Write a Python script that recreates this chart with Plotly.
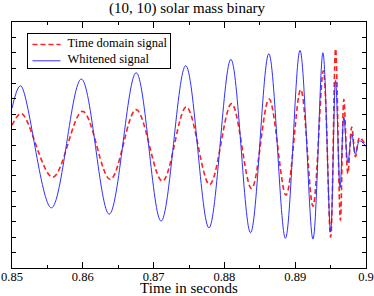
import plotly.graph_objects as go

# Whitened signal extrema (time in s, amplitude in arbitrary units)
whitened_t = [0.85, 0.851197, 0.855563, 0.859789, 0.863732, 0.867535, 0.871056, 0.874535,
              0.877817, 0.880915, 0.883690, 0.886268, 0.888620, 0.890676, 0.892507,
              0.893915, 0.895000, 0.895704, 0.896338, 0.896873, 0.897437, 0.898000,
              0.898493, 0.899085, 0.9]
whitened_h = [2.39, 3.86, -4.09, 4.29, -4.50, 4.70, -4.95, 5.16,
              -5.39, 5.57, -5.71, 5.94, -6.07, 6.15, -6.12,
              6.00, -5.65, 4.20, -2.78, 1.82, -1.13, 0.72,
              -0.60, 0.26, -0.08]

# Time domain signal extrema
timedomain_t = [0.85, 0.851338, 0.855746, 0.859972, 0.863873, 0.867535, 0.871239, 0.874620,
                0.877915, 0.881014, 0.883831, 0.886310, 0.888704, 0.890775, 0.892507,
                0.893972, 0.895000, 0.895704, 0.896380, 0.896873, 0.897437, 0.897986,
                0.898521, 0.899085, 0.9]
timedomain_h = [1.28, 2.04, -2.09, 2.19, -2.24, 2.30, -2.35, 2.47,
                -2.57, 2.69, -2.83, 2.99, -3.26, 3.60, -3.98,
                4.82, -5.99, 6.26, -4.89, 2.97, -1.85, 1.17,
                -0.76, 0.48, -0.08]

series_names = ["Time domain signal", "Whitened signal"]
series_colors = ["#ff2020", "#3030ff"]

x_ticks = [0.85, 0.86, 0.87, 0.88, 0.89, 0.9]
x_tick_labels = ["0.85", "0.86", "0.87", "0.88", "0.89", "0.9"]

serif = "Liberation Serif, Times New Roman, serif"
red_dash = "5px,3px"

fig = go.Figure()
fig.add_trace(go.Scatter(
    x=timedomain_t, y=timedomain_h, mode="lines", name=series_names[0],
    line=dict(color=series_colors[0], width=1.6, dash=red_dash, shape="spline", smoothing=1.0),
))
fig.add_trace(go.Scatter(
    x=whitened_t, y=whitened_h, mode="lines", name=series_names[1],
    line=dict(color=series_colors[1], width=1, shape="spline", smoothing=1.0),
))

# Compact xmgrace-style legend: bordered annotation plus line samples
pad = "\u00a0" * 12
legend_text = "<br>".join(pad + n for n in series_names)
fig.add_annotation(xref="paper", yref="paper", x=0.0429, y=0.9533,
                   xanchor="left", yanchor="top", align="left", showarrow=False,
                   text=legend_text, bordercolor="black", borderwidth=1, borderpad=2,
                   bgcolor="rgba(0,0,0,0)", font=dict(family=serif, size=12.5, color="black"))

row_y = [0.9083, 0.8422]
sample_x = [0.0578, 0.1368]
fig.add_shape(type="line", xref="paper", yref="paper", layer="above",
              x0=sample_x[0], x1=sample_x[1], y0=row_y[0], y1=row_y[0],
              line=dict(color=series_colors[0], width=1.6, dash=red_dash))
fig.add_shape(type="line", xref="paper", yref="paper", layer="above",
              x0=sample_x[0], x1=sample_x[1], y0=row_y[1], y1=row_y[1],
              line=dict(color=series_colors[1], width=1))

fig.update_layout(
    width=374, height=296,
    margin=dict(l=11.5, r=8, t=21.5, b=28, autoexpand=False),
    paper_bgcolor="white", plot_bgcolor="white",
    font=dict(family=serif, color="black", size=12.5),
    title=dict(text="(10, 10) solar mass binary", x=0.5, xanchor="center",
               y=0.973, yanchor="middle", font=dict(family=serif, size=15)),
    showlegend=False,
    xaxis=dict(range=[0.85, 0.9], tickvals=x_ticks, ticktext=x_tick_labels,
               ticks="inside", ticklen=6, tickcolor="black", ticklabelstandoff=-3,
               minor=dict(dtick=0.005, ticks="inside", ticklen=3, tickcolor="black"),
               showline=True, linecolor="black", linewidth=1, mirror="allticks",
               showgrid=False, zeroline=False, automargin=False,
               title=dict(text="Time in seconds", font=dict(family=serif, size=15), standoff=0),
               tickfont=dict(family=serif, size=12.5)),
    yaxis=dict(range=[-8, 8], dtick=1, tick0=0, ticks="inside", ticklen=4, tickcolor="black",
               showticklabels=False, automargin=False,
               showline=True, linecolor="black", linewidth=1, mirror="allticks",
               showgrid=False, zeroline=False),
)

fig.write_html("out.html", config={"displayModeBar": False},
               post_script="document.body.style.margin='0';")
